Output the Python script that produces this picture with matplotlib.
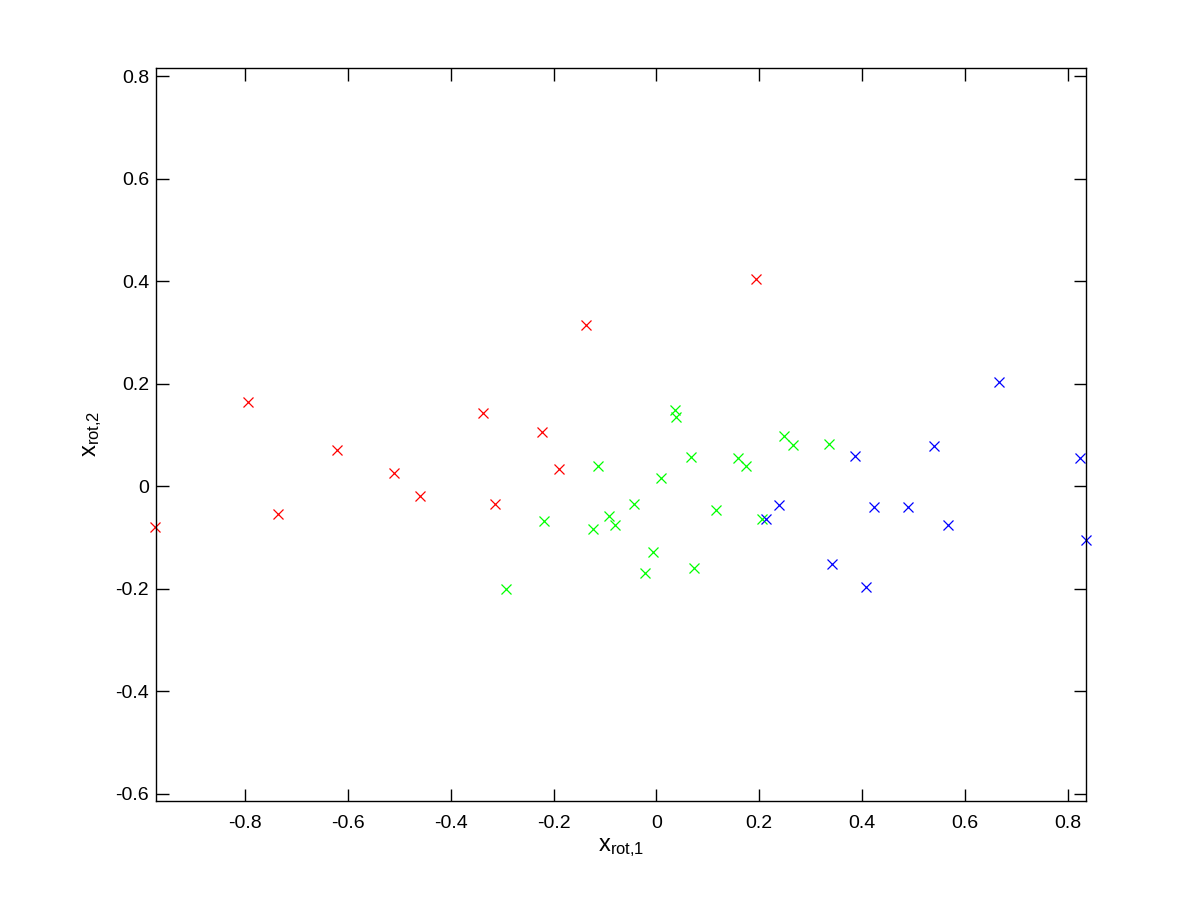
import matplotlib
matplotlib.use("Agg")
import matplotlib.pyplot as plt

plt.rcParams['font.family'] = ['Liberation Sans', 'DejaVu Sans']
plt.rcParams['mathtext.fontset'] = 'custom'
plt.rcParams['mathtext.rm'] = 'Liberation Sans'

# Class 1 (red)
red_x = [-0.975, -0.794, -0.736, -0.622, -0.510, -0.460, -0.337, -0.314, -0.222, -0.189, -0.138, 0.193]
red_y = [-0.079, 0.164, -0.054, 0.071, 0.025, -0.0195, 0.142, -0.035, 0.105, 0.033, 0.314, 0.404]

# Class 2 (green)
green_x = [-0.114, -0.218, -0.292, -0.123, -0.092, -0.080, -0.043, 0.008, -0.006, -0.023, 0.074,
           0.036, 0.038, 0.068, 0.116, 0.159, 0.174, 0.248, 0.266, 0.206, 0.335]
green_y = [0.039, -0.068, -0.201, -0.084, -0.058, -0.076, -0.035, 0.016, -0.129, -0.170, -0.160,
           0.149, 0.135, 0.058, -0.046, 0.055, 0.039, 0.099, 0.080, -0.064, 0.082]

# Class 3 (blue)
blue_x = [0.238, 0.214, 0.667, 0.540, 0.386, 0.825, 0.423, 0.489, 0.567, 0.836, 0.341, 0.407]
blue_y = [-0.037, -0.064, 0.203, 0.078, 0.060, 0.055, -0.041, -0.041, -0.076, -0.105, -0.152, -0.197]

x_ticks = [-0.8, -0.6, -0.4, -0.2, 0, 0.2, 0.4, 0.6, 0.8]
x_ticklabels = ['-0.8', '-0.6', '-0.4', '-0.2', '0', '0.2', '0.4', '0.6', '0.8']
y_ticks = [-0.6, -0.4, -0.2, 0, 0.2, 0.4, 0.6, 0.8]
y_ticklabels = ['-0.6', '-0.4', '-0.2', '0', '0.2', '0.4', '0.6', '0.8']

fig = plt.figure(figsize=(12, 9), dpi=100)
ax = fig.add_axes([0.13, 0.11, 0.775, 0.815])

mk = dict(marker='x', linestyle='none', markersize=7, markeredgewidth=0.9)
ax.plot(red_x, red_y, color=(1, 0, 0), **mk, clip_on=False)
ax.plot(green_x, green_y, color=(0, 1, 0), **mk, clip_on=False)
ax.plot(blue_x, blue_y, color=(0, 0, 1), **mk, clip_on=False)

ax.set_xlim(-0.974, 0.836)
ax.set_ylim(-0.614, 0.817)

ax.set_xticks(x_ticks)
ax.set_xticklabels(x_ticklabels)
ax.set_yticks(y_ticks)
ax.set_yticklabels(y_ticklabels)

ax.tick_params(direction='in', length=9, width=1, top=True, right=True,
               labelsize=14, colors='black')
ax.tick_params(axis='x', pad=10)
ax.tick_params(axis='y', pad=5)
for s in ax.spines.values():
    s.set_linewidth(1)
    s.set_color('black')

ax.set_xlabel(r'$\mathregular{x_{rot{,}1}}$', fontsize=17, labelpad=3)
ax.set_ylabel(r'$\mathregular{x_{rot{,}2}}$', fontsize=17, labelpad=8)

fig.savefig('out.png', dpi=100, facecolor='white')
